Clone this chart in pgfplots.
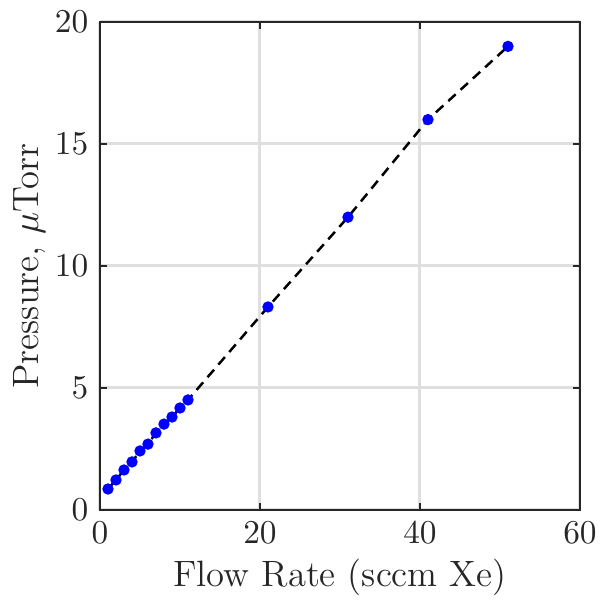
\documentclass[border=0pt]{standalone}
\usepackage{pgfplots}
\pgfplotsset{compat=1.18}
\definecolor{axgray}{RGB}{38,38,38}
\definecolor{gridgray}{RGB}{223,223,223}
\begin{document}
\begin{tikzpicture}
\begin{axis}[
  at={(0,0)}, anchor=south west,
  scale only axis, width=144pt, height=146.4pt,
  xmin=0, xmax=60, ymin=0, ymax=20,
  xtick={0,20,40,60}, ytick={0,5,10,15,20},
  grid=major, major grid style={gridgray, line width=0.9pt},
  axis line style={axgray, line width=0.8pt},
  tick style={axgray, line width=0.8pt},
  tick align=inside, major tick length=2pt,
  xticklabel style={font=\fontsize{10}{12}\selectfont, text=axgray},
  yticklabel style={font=\fontsize{10}{12}\selectfont, text=axgray},
  xlabel={Flow Rate (sccm Xe)}, ylabel={Pressure, $\mu$Torr},
  label style={font=\fontsize{11}{13}\selectfont, text=axgray},
  xlabel style={yshift=2pt}, ylabel style={yshift=-4pt},
]
\addplot[black, line width=0.75pt, dash pattern=on 3pt off 2pt] coordinates {
 (1,0.86) (2,1.23) (3,1.64) (4,1.97) (5,2.42) (6,2.7) (7,3.16) (8,3.52) (9,3.81) (10,4.18) (11,4.51) (21,8.32) (31,12.0) (41,16.0) (51,19.0)};
\addplot[only marks, mark=*, mark size=1.5pt, mark options={fill=blue, draw=blue}] coordinates {
 (1,0.86) (2,1.23) (3,1.64) (4,1.97) (5,2.42) (6,2.7) (7,3.16) (8,3.52) (9,3.81) (10,4.18) (11,4.51) (21,8.32) (31,12.0) (41,16.0) (51,19.0)};
\end{axis}
\pgfresetboundingbox
\path[use as bounding box] (-30pt,-28.2pt) rectangle (152.4pt,153pt);
\end{tikzpicture}
\end{document}
